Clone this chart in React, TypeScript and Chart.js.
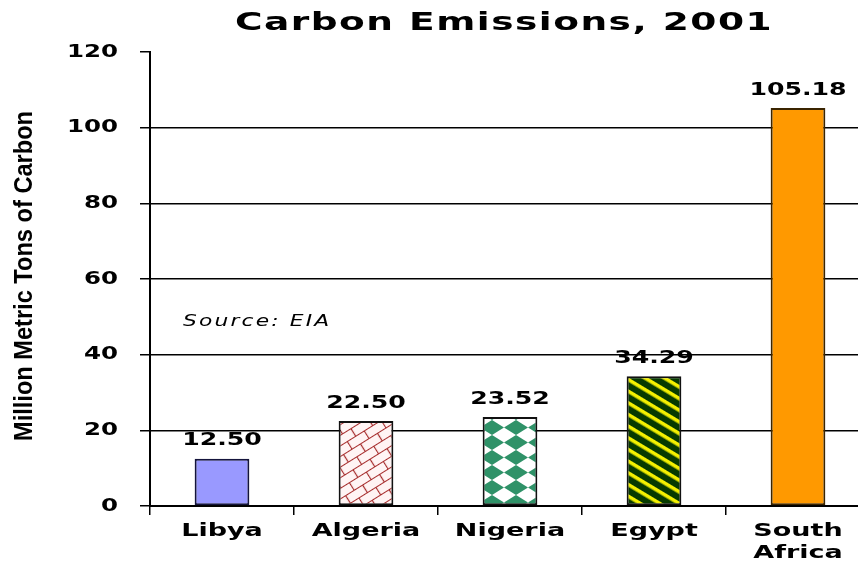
import React, { useEffect, useRef } from "react";
import { Chart, registerables } from "chart.js";

Chart.register(...registerables);

const TITLE = "Carbon Emissions, 2001";
const Y_TITLE = "Million Metric Tons of Carbon";
const SOURCE = "Source: EIA";
const CATEGORIES: (string | string[])[] = ["Libya", "Algeria", "Nigeria", "Egypt", ["South", "Africa"]];
const VALUES = [12.5, 22.5, 23.52, 34.29, 105.18];
const VALUE_LABELS = ["12.50", "22.50", "23.52", "34.29", "105.18"];
const Y_MIN = 0;
const Y_MAX = 120;
const Y_STEP = 20;

const BOLD = "'DejaVu Sans', Verdana, sans-serif";

function makeTile(w: number, h: number, draw: (c: CanvasRenderingContext2D) => void) {
  const cv = document.createElement("canvas");
  cv.width = w;
  cv.height = h;
  const c = cv.getContext("2d")!;
  draw(c);
  return cv;
}

function makeFills(ctx: CanvasRenderingContext2D): (string | CanvasPattern)[] {
  // Algeria: diagonal brick
  const brick = makeTile(20, 18, (c) => {
    c.fillStyle = "#fff4f4";
    c.fillRect(0, 0, 20, 18);
    c.strokeStyle = "#a52a2a";
    c.lineWidth = 1.2;
    c.beginPath();
    c.moveTo(0, 0.5); c.lineTo(20, 0.5);
    c.moveTo(0, 9.5); c.lineTo(20, 9.5);
    c.moveTo(0.5, 0); c.lineTo(0.5, 9.5);
    c.moveTo(10.5, 9.5); c.lineTo(10.5, 18);
    c.stroke();
  });
  const brickPat = ctx.createPattern(brick, "repeat")!;
  brickPat.setTransform(new DOMMatrix().rotateSelf(-32));

  // Nigeria: diamonds
  const dia = makeTile(24, 15, (c) => {
    c.fillStyle = "#ffffff";
    c.fillRect(0, 0, 24, 15);
    c.fillStyle = "#2f9268";
    c.beginPath();
    c.moveTo(0, 7.5); c.lineTo(12, 0); c.lineTo(24, 7.5); c.lineTo(12, 15);
    c.closePath();
    c.fill();
  });
  const diaPat = ctx.createPattern(dia, "repeat")!;

  // Egypt: diagonal stripes
  const stripe = makeTile(10, 10, (c) => {
    c.fillStyle = "#073a00";
    c.fillRect(0, 0, 10, 10);
    c.fillStyle = "#f4f000";
    c.fillRect(0, 0, 10, 3.6);
  });
  const stripePat = ctx.createPattern(stripe, "repeat")!;
  stripePat.setTransform(new DOMMatrix().rotateSelf(31));

  return ["#9999ff", brickPat, diaPat, stripePat, "#ff9900"];
}

const BORDERS = ["#14143c", "#111111", "#111111", "#111111", "#3a2400"];

function sText(
  ctx: CanvasRenderingContext2D,
  text: string,
  x: number,
  y: number,
  sx: number,
  align: CanvasTextAlign,
  font: string,
  spacing = 0
) {
  ctx.save();
  ctx.font = font;
  ctx.fillStyle = "#000";
  ctx.textAlign = align;
  ctx.textBaseline = "middle";
  (ctx as any).letterSpacing = spacing + "px";
  ctx.translate(x, y);
  ctx.scale(sx, 1);
  ctx.fillText(text, 0, 0);
  ctx.restore();
}

const textPlugin = {
  id: "texts",
  afterDraw(chart: any) {
    const ctx: CanvasRenderingContext2D = chart.ctx;
    const area = chart.chartArea;
    const xs = chart.scales.x;
    const ys = chart.scales.y;

    // Title
    sText(ctx, TITLE, (area.left + area.right) / 2 - 6, 23, 1.5, "center", `bold 25px ${BOLD}`, 1);

    // Y tick labels
    ys.ticks.forEach((t: any) => {
      sText(ctx, String(t.value), area.left - 32, ys.getPixelForValue(t.value), 1.36, "right", `bold 18px ${BOLD}`);
    });

    // X labels
    CATEGORIES.forEach((lab, i) => {
      const lines = Array.isArray(lab) ? lab : [lab];
      const x = xs.getPixelForTick(i);
      lines.forEach((ln, j) => {
        sText(ctx, ln, x, area.bottom + 25 + j * 22, 1.5, "center", `bold 18px ${BOLD}`);
      });
    });

    // Value labels
    const meta = chart.getDatasetMeta(0);
    meta.data.forEach((bar: any, i: number) => {
      sText(ctx, VALUE_LABELS[i], bar.x, bar.y - 18, 1.4, "center", `bold 18px ${BOLD}`);
    });

    // Source note
    sText(ctx, SOURCE, area.left + 33, ys.getPixelForValue(48.6), 1.45, "left", `italic 15px ${BOLD}`, 1.5);

    // Y axis title (condensed)
    ctx.save();
    ctx.font = "bold 26px 'Liberation Sans', Arial, sans-serif";
    const w = ctx.measureText(Y_TITLE).width;
    ctx.translate(25, (area.top + area.bottom) / 2 - 3);
    ctx.rotate(-Math.PI / 2);
    ctx.scale(330 / w, 1);
    ctx.fillStyle = "#000";
    ctx.textAlign = "center";
    ctx.textBaseline = "middle";
    ctx.fillText(Y_TITLE, 0, 0);
    ctx.restore();
  },
};

export default function App() {
  const ref = useRef<HTMLCanvasElement>(null);
  useEffect(() => {
    const canvas = ref.current!;
    const ctx = canvas.getContext("2d")!;
    const chart = new Chart(canvas, {
      type: "bar",
      data: {
        labels: CATEGORIES as any,
        datasets: [
          {
            data: VALUES,
            backgroundColor: makeFills(ctx) as any,
            borderColor: BORDERS,
            borderWidth: 2,
            borderSkipped: false,
            barPercentage: 0.38,
            categoryPercentage: 1,
          },
        ],
      },
      options: {
        responsive: false,
        animation: false,
        devicePixelRatio: 1,
        layout: { padding: { top: 52, right: 2, left: 0, bottom: 0 } },
        plugins: {
          legend: { display: false },
          tooltip: { enabled: false },
          title: { display: false },
        },
        scales: {
          x: {
            grid: {
              display: true,
              drawOnChartArea: false,
              drawTicks: true,
              tickLength: 9,
              offset: true,
              color: "#000",
              lineWidth: 1.5,
            },
            border: { display: true, color: "#000", width: 2 },
            ticks: { display: false },
            afterFit: (s: any) => {
              s.height = 61;
            },
          },
          y: {
            min: Y_MIN,
            max: Y_MAX,
            ticks: { display: false, stepSize: Y_STEP },
            grid: {
              color: (c: any) => (c.tick && c.tick.value === Y_MAX ? "rgba(0,0,0,0)" : "#000"),
              tickColor: "#000",
              lineWidth: 1.5,
              tickLength: 10,
              drawTicks: true,
            },
            border: { display: true, color: "#000", width: 2 },
            afterFit: (s: any) => {
              s.width = 150;
            },
          },
        },
      },
      plugins: [textPlugin],
    });
    return () => chart.destroy();
  }, []);
  return (
    <div style={{ position: "fixed", left: 0, top: 0, width: 858, height: 567, overflow: "hidden", background: "#fff" }}>
      <canvas ref={ref} width={872} height={567} style={{ display: "block" }} />
    </div>
  );
}
